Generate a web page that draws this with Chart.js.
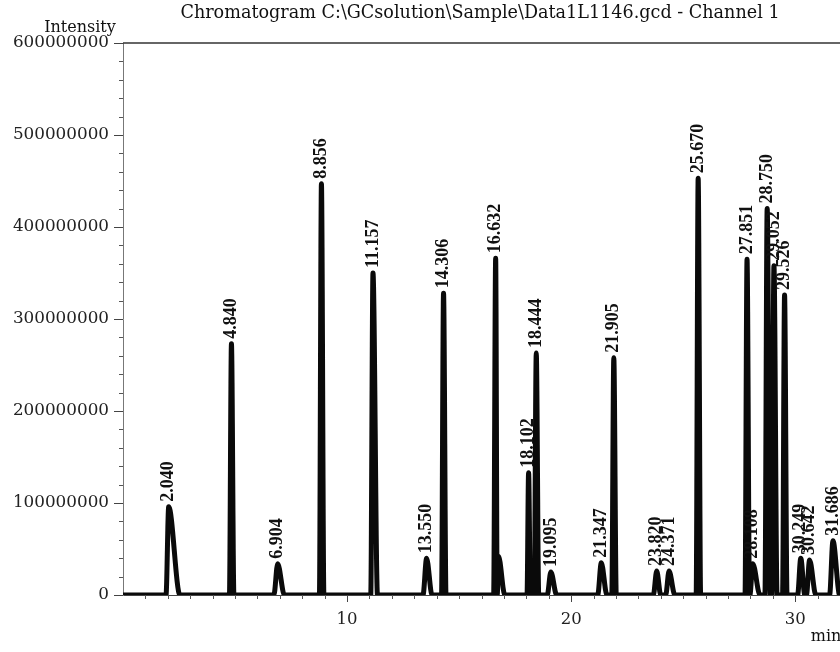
<!DOCTYPE html>
<html>
<head>
<meta charset="utf-8">
<script src="https://cdn.jsdelivr.net/npm/chart.js@4.4.0/dist/chart.umd.min.js"></script>
<style>
  body { margin: 0; background: #fff; }
  canvas { display: block; }
</style>
</head>
<body>
<canvas id="myChart" width="840" height="652"></canvas>
<script>
// peak table (minutes / intensity counts)
const retentionTimes = [2.040, 4.840, 6.904, 8.856, 11.157, 13.550, 14.306, 16.632, 16.76, 18.102, 18.444, 19.095,
                        21.347, 21.905, 23.820, 24.371, 25.670, 27.851, 28.108, 28.750, 29.052, 29.526, 30.249, 30.642, 31.686];
const peakHeights = [96000000, 273000000, 34000000, 447000000, 350000000, 40000000, 328000000, 366000000, 42000000, 133000000, 263000000, 25000000,
                     35000000, 258000000, 26000000, 26000000, 453000000, 365000000, 34000000, 420000000, 358000000, 326000000, 40000000, 38000000, 59000000];
const peakLabels = ['2.040', '4.840', '6.904', '8.856', '11.157', '13.550', '14.306', '16.632', '', '18.102', '18.444', '19.095',
                    '21.347', '21.905', '23.820', '24.371', '25.670', '27.851', '28.108', '28.750', '29.052', '29.526', '30.249', '30.642', '31.686'];
// rise (before apex) and tail (after apex) widths in minutes
const riseWidths = [0.12, 0.09, 0.17, 0.09, 0.1, 0.16, 0.09, 0.09, 0.06, 0.07, 0.09, 0.16,
                    0.16, 0.09, 0.15, 0.15, 0.09, 0.09, 0.13, 0.1, 0.1, 0.09, 0.14, 0.14, 0.15];
const tailWidths = [0.5, 0.11, 0.3, 0.11, 0.2, 0.24, 0.11, 0.07, 0.28, 0.08, 0.11, 0.26,
                    0.25, 0.11, 0.18, 0.26, 0.11, 0.11, 0.32, 0.14, 0.14, 0.11, 0.18, 0.28, 0.3];
const yMajorTicks = [0, 100000000, 200000000, 300000000, 400000000, 500000000, 600000000];
const xMajorTicks = [10, 20, 30];

const chartTitle = 'Chromatogram C:\\GCsolution\\Sample\\Data1L1146.gcd - Channel 1';

// trace points built from the peak table
let trace = [{x: 0, y: 0}, {x: 32.5, y: 0}];
retentionTimes.forEach((t, i) => {
  trace.push({x: t - riseWidths[i], y: 0});
  trace.push({x: t, y: peakHeights[i]});
  trace.push({x: t + tailWidths[i], y: 0});
});
trace.sort((a, b) => a.x - b.x);

const extras = {
  id: 'extras',
  afterDraw(chart) {
    const c = chart.ctx;
    const area = chart.chartArea;
    const xs = chart.scales.x, ys = chart.scales.y;
    c.save();
    // top frame line
    c.strokeStyle = '#333';
    c.lineWidth = 1.5;
    c.beginPath();
    c.moveTo(area.left, area.top);
    c.lineTo(area.right, area.top);
    c.stroke();
    // minor ticks
    c.strokeStyle = '#555';
    c.lineWidth = 1;
    for (let v = 20000000; v < 600000000; v += 20000000) {
      if (v % 100000000 === 0) continue;
      const y = Math.round(ys.getPixelForValue(v)) + 0.5;
      c.beginPath(); c.moveTo(area.left - 4, y); c.lineTo(area.left, y); c.stroke();
    }
    for (let m = 1; m <= 32; m++) {
      if (m % 10 === 0) continue;
      const x = Math.round(xs.getPixelForValue(m)) + 0.5;
      c.beginPath(); c.moveTo(x, area.bottom); c.lineTo(x, area.bottom + 4); c.stroke();
    }
    // peak labels, rotated
    c.fillStyle = '#111';
    c.font = 'bold 18px "Liberation Serif"';
    c.textAlign = 'left';
    c.textBaseline = 'middle';
    retentionTimes.forEach((t, i) => {
      if (!peakLabels[i]) return;
      const px = xs.getPixelForValue(t);
      const py = ys.getPixelForValue(peakHeights[i]);
      c.save();
      c.translate(px, py - 5);
      c.rotate(-Math.PI / 2);
      c.fillText(peakLabels[i], 0, 0);
      c.restore();
    });
    // title and axis names
    c.fillStyle = '#111';
    c.font = '17.6px "DejaVu Serif"';
    c.textAlign = 'center';
    c.textBaseline = 'middle';
    c.fillText(chartTitle, 480, 13);
    c.font = '16px "DejaVu Serif"';
    c.fillText('Intensity', 80, 28);
    c.fillText('min', 826, 637);
    c.restore();
  }
};

new Chart(document.getElementById('myChart'), {
  type: 'line',
  data: {
    datasets: [{
      data: trace,
      borderColor: '#0a0a0a',
      borderWidth: 5,
      borderJoinStyle: 'round',
      cubicInterpolationMode: 'monotone',
      pointRadius: 0,
      fill: false
    }]
  },
  options: {
    responsive: false,
    animation: false,
    layout: { padding: { top: 43, right: 0, left: 0, bottom: 0 } },
    plugins: { legend: { display: false }, title: { display: false }, tooltip: { enabled: false } },
    scales: {
      x: {
        type: 'linear',
        min: 0,
        max: 32,
        afterFit(scale) { scale.height = 57; },
        afterBuildTicks(scale) { scale.ticks = xMajorTicks.map(v => ({value: v})); },
        border: { color: '#444', width: 1 },
        grid: { drawOnChartArea: false, tickLength: 7, color: '#444' },
        ticks: { color: '#222', padding: 8, font: { family: '"DejaVu Serif"', size: 16.5 }, maxRotation: 0 }
      },
      y: {
        min: 0,
        max: 600000000,
        afterFit(scale) { scale.width = 123; },
        afterBuildTicks(scale) { scale.ticks = yMajorTicks.map(v => ({value: v})); },
        border: { color: '#777', width: 1 },
        grid: { drawOnChartArea: false, tickLength: 9, color: '#444' },
        ticks: {
          color: '#222',
          padding: 5,
          font: { family: '"DejaVu Serif"', size: 16.8 },
          callback: v => String(v)
        }
      }
    }
  },
  plugins: [extras]
});
</script>
</body>
</html>
